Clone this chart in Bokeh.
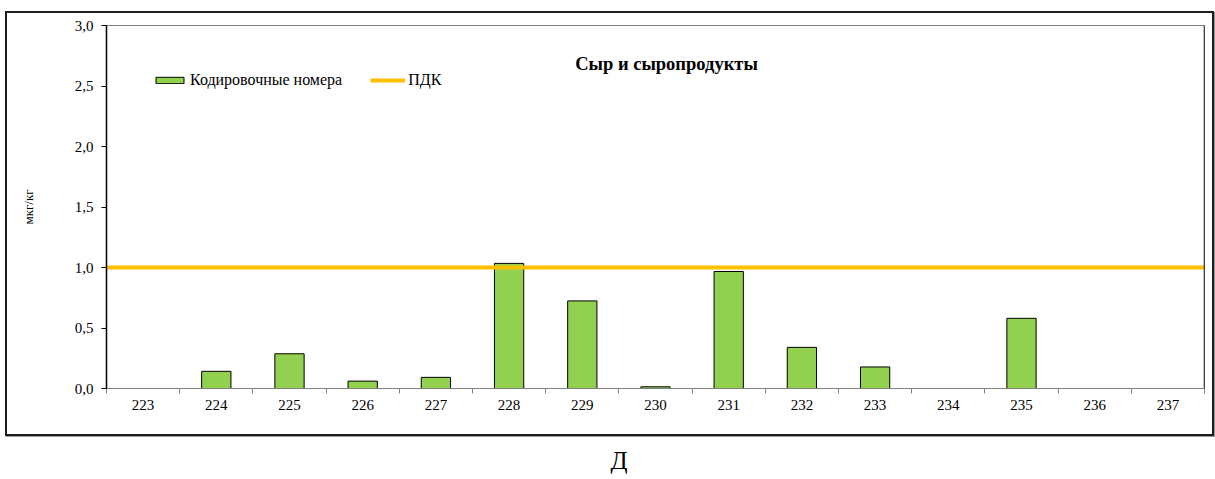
from bokeh.plotting import figure
from bokeh.layouts import column
from bokeh.models import Range1d, FixedTicker, Label, Span
from bokeh.core.properties import value
from bokeh.embed import file_html
from bokeh.resources import INLINE

# ---- data ----
codes = ["223", "224", "225", "226", "227", "228", "229", "230",
         "231", "232", "233", "234", "235", "236", "237"]
values = [0.0, 0.142, 0.287, 0.061, 0.092, 1.034, 0.724, 0.014,
          0.967, 0.34, 0.178, 0.0, 0.58, 0.0, 0.0]
pdk = 1.0
y_ticks = [0.0, 0.5, 1.0, 1.5, 2.0, 2.5, 3.0]
y_tick_labels = ["0,0", "0,5", "1,0", "1,5", "2,0", "2,5", "3,0"]
title_text = "Сыр и сыропродукты"
series_name = "Кодировочные номера"
pdk_name = "ПДК"
y_label = "мкг/кг"
caption = "Д"

FONT = "Liberation Serif"

xs = list(range(len(codes)))

p = figure(frame_width=1094, frame_height=359,
           min_border_left=99, min_border_right=12,
           min_border_top=12, min_border_bottom=50,
           x_range=Range1d(xs[0] - 0.5, xs[-1] + 0.5),
           y_range=Range1d(y_ticks[0], y_ticks[-1]),
           output_backend="svg", toolbar_location=None,
           margin=(11, 0, 0, 5),
           styles={"border": "2px solid #1e1e1e",
                   "box-shadow": "1px 1px 0px #9a9a9a"})

p.background_fill_color = "white"
p.border_fill_color = "white"
p.outline_line_color = "#808080"
p.outline_line_width = 1
p.xgrid.visible = False
p.ygrid.visible = False

p.vbar(x=xs, top=values, width=0.4, bottom=0,
       fill_color="#92D050", line_color="black", line_width=1,
       legend_label=series_name)
p.line(x=[xs[0] - 0.5, xs[-1] + 0.5], y=[pdk, pdk],
       line_color="#FFC000", line_width=4, legend_label=pdk_name)

# right plot border in black
p.add_layout(Span(location=xs[-1] + 0.5, dimension="height",
                  line_color="black", line_width=1.5))

# x axis: labels at centers, ticks at category boundaries
xa = p.xaxis[0]
xa.ticker = FixedTicker(ticks=xs, minor_ticks=[x - 0.5 for x in xs] + [xs[-1] + 0.5])
xa.major_label_overrides = {x: c for x, c in zip(xs, codes)}
xa.major_tick_line_color = None
xa.minor_tick_in = 0
xa.minor_tick_out = 5
xa.minor_tick_line_color = "#808080"
xa.axis_line_color = "#808080"
xa.major_label_text_font = FONT
xa.major_label_text_font_size = "15px"
xa.major_label_text_color = "black"
xa.major_label_standoff = 5

ya = p.yaxis[0]
ya.ticker = FixedTicker(ticks=y_ticks, minor_ticks=[])
ya.major_label_overrides = {t: l for t, l in zip(y_ticks, y_tick_labels)}
ya.major_tick_in = 0
ya.major_tick_out = 5
ya.major_tick_line_color = "black"
ya.axis_line_color = "black"
ya.axis_line_width = 1.5
ya.major_label_text_font = FONT
ya.major_label_text_font_size = "15px"
ya.major_label_text_color = "black"
ya.major_label_standoff = 8
ya.axis_label = y_label
ya.axis_label_text_font = FONT
ya.axis_label_text_font_style = "normal"
ya.axis_label_text_font_size = "13px"
ya.axis_label_text_color = "black"
ya.axis_label_standoff = 36

# legend
lg = p.legend[0]
lg.orientation = "horizontal"
lg.location = (46, 299)
lg.background_fill_alpha = 0
lg.border_line_color = None
lg.padding = 0
lg.margin = 0
lg.spacing = 28
lg.glyph_width = 35
lg.glyph_height = 8
lg.label_standoff = 3
lg.label_text_font = FONT
lg.label_text_font_size = "16px"
lg.label_text_color = "black"

# chart title inside plot area
p.add_layout(Label(x=560, y=325, x_units="screen", y_units="screen",
                   text=title_text, text_font=FONT, text_font_size="18.5px",
                   text_font_style="bold", text_align="center",
                   text_baseline="middle", text_color="black"))

# caption below the chart (a full-width strip, coordinates = pixels)
p2 = figure(width=1210, height=40,
            x_range=Range1d(0, 1210), y_range=Range1d(0, 40),
            x_axis_type=None, y_axis_type=None,
            min_border_left=0, min_border_right=0,
            min_border_top=0, min_border_bottom=0,
            output_backend="svg", toolbar_location=None,
            margin=(6, 0, 0, 0))
p2.outline_line_color = None
p2.xgrid.visible = False
p2.ygrid.visible = False
p2.text(x=[572], y=[22], text=[caption], text_font=value(FONT),
        text_font_size="25px", text_align="center", text_baseline="middle",
        text_color="black")

layout = column(p, p2, spacing=0)

open("out.html", "w").write(file_html(layout, INLINE))
